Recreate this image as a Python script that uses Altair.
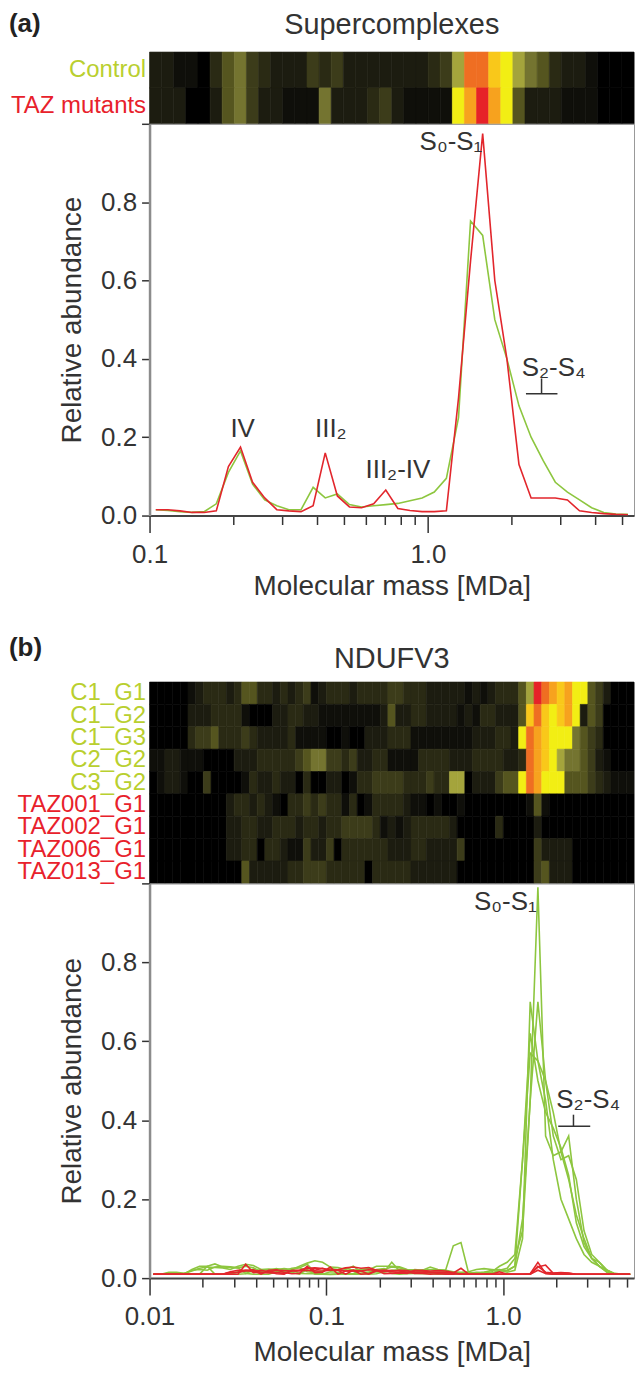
import altair as alt
import pandas as pd

FONT = "Liberation Sans"
GREEN = "#8dc63f"
RED = "#e2262c"
LBL_GREEN = "#b9cf2f"
LBL_RED = "#e8212b"
TXT = "#333333"

# fraction calibration (MDa), one value per gel fraction
MASS = [0.01051, 0.01162, 0.01285, 0.01420, 0.01570, 0.01735, 0.01918, 0.02120, 0.02343, 0.02590,
        0.02863, 0.03164, 0.03498, 0.03866, 0.04273, 0.04723, 0.05221, 0.05771, 0.06378, 0.07050,
        0.07793, 0.08614, 0.09522, 0.1053, 0.1163, 0.1286, 0.1421, 0.1571, 0.1737, 0.1920,
        0.2122, 0.2345, 0.2592, 0.2865, 0.3167, 0.3501, 0.3870, 0.4277, 0.4728, 0.5226,
        0.5776, 0.6385, 0.7057, 0.7800, 0.8622, 0.9533, 1.054, 1.165, 1.288, 1.423,
        1.573, 1.739, 1.922, 2.124, 2.348, 2.595, 2.869, 3.171, 3.505, 3.874,
        4.282, 4.733, 5.232]
MASS_A = MASS[23:]

# ---- panel (a) Supercomplexes ----
CTRL_A = [0.015, 0.013, 0.010, 0.008, 0.010, 0.030, 0.110, 0.165, 0.080, 0.040,
          0.025, 0.015, 0.015, 0.072, 0.045, 0.055, 0.028, 0.022, 0.025, 0.028,
          0.031, 0.038, 0.045, 0.060, 0.095, 0.250, 0.752, 0.715, 0.500, 0.400,
          0.280, 0.200, 0.140, 0.085, 0.060, 0.040, 0.020, 0.008, 0.004, 0.003]
TAZ_A = [0.015, 0.015, 0.012, 0.008, 0.008, 0.012, 0.125, 0.175, 0.085, 0.045,
         0.015, 0.012, 0.010, 0.025, 0.160, 0.050, 0.022, 0.020, 0.030, 0.065,
         0.018, 0.013, 0.010, 0.010, 0.012, 0.300, 0.650, 0.975, 0.600, 0.400,
         0.130, 0.045, 0.045, 0.045, 0.040, 0.012, 0.008, 0.005, 0.003, 0.002]
HEAT_A_CTRL = [2, 2, 1, 1, 0, 3, 5, 6, 4, 3, 2, 2, 2, 4, 3, 4, 2, 2, 2, 2,
               2, 2, 2, 3, 4, 7, 11, 11, 9, 8, 7, 6, 5, 3, 2, 2, 1, 0, 0, 0]
HEAT_A_TAZ = [2, 2, 2, 0, 0, 2, 5, 6, 4, 2, 2, 1, 1, 1, 6, 2, 2, 2, 3, 4,
              2, 1, 1, 1, 1, 8, 10, 12, 10, 8, 5, 2, 2, 2, 1, 1, 1, 0, 0, 0]
ROWS_A = ["Control", "TAZ mutants"]

ANN_A_TEXT = ["IV", "III₂", "III₂-IV", "S₀-S₁", "S₂-S₄"]
ANN_A_MASS = [0.216, 0.448, 0.78, 1.21, 2.83]
ANN_A_VAL = [0.221, 0.221, 0.117, 0.954, 0.376]
BRACKET_A = {"from": 2.25, "to": 2.92, "mid": 2.56, "low": 0.311, "high": 0.35}

# ---- panel (b) NDUFV3 ----
ROWS_B = ["C1_G1", "C1_G2", "C1_G3", "C2_G2", "C3_G2",
          "TAZ001_G1", "TAZ002_G1", "TAZ006_G1", "TAZ013_G1"]

L_C1G1 = [.010, .010, .010, .010, .012, .018, .025, .028, .027, .026, .022, .030, .035, .032,
          .022, .020, .024, .020, .022, .026, .035, .015, .018, .024, .022, .025, .020, .022,
          .024, .020, .022, .028, .026, .020, .018, .016, .014, .012, .013, .012, .011, .010,
          .012, .010, .012, .020, .025, .050, .120, .450, .990, .360, .310, .320, .360, .200,
          .090, .050, .030, .015, .010, .010, .010]
L_C1G2 = [.010, .010, .010, .010, .011, .020, .022, .020, .028, .030, .029, .026, .012, .010,
          .010, .010, .016, .018, .025, .027, .016, .015, .011, .010, .011, .010, .011, .012,
          .010, .011, .016, .040, .018, .017, .022, .020, .016, .015, .016, .015, .013, .014,
          .012, .015, .020, .022, .018, .030, .150, .450, .700, .500, .360, .300, .310, .250,
          .120, .060, .040, .020, .010, .010, .010]
L_C1G3 = [.010, .010, .010, .010, .010, .022, .030, .030, .036, .028, .027, .026, .030, .026,
          .016, .017, .015, .016, .022, .012, .011, .012, .010, .009, .010, .011, .010, .010,
          .015, .016, .015, .020, .021, .020, .012, .011, .011, .010, .010, .011, .010, .010,
          .013, .014, .013, .018, .020, .030, .300, .570, .550, .500, .420, .320, .250, .160,
          .100, .050, .040, .020, .010, .010, .010]
L_C2G2 = [.010, .010, .012, .012, .010, .010, .010, .010, .010, .010, .010, .016, .017, .016,
          .022, .023, .022, .024, .022, .030, .038, .044, .040, .028, .027, .022, .030, .016,
          .015, .022, .024, .012, .010, .011, .012, .020, .022, .021, .020, .016, .015, .016,
          .022, .024, .022, .020, .015, .020, .100, .700, .550, .450, .300, .200, .150, .100,
          .060, .040, .030, .015, .010, .010, .010]
L_C3G2 = [.010, .010, .015, .015, .012, .010, .010, .030, .010, .010, .010, .010, .011, .022,
          .016, .017, .022, .016, .015, .010, .022, .010, .010, .016, .015, .010, .011, .022,
          .021, .030, .030, .030, .029, .022, .021, .020, .028, .022, .020, .082, .090, .012,
          .015, .014, .016, .030, .040, .060, .300, .620, .500, .420, .380, .330, .260, .140,
          .080, .050, .030, .020, .012, .010, .010]
L_T001 = [.010, .010, .010, .010, .010, .010, .010, .010, .010, .010, .016, .020, .020, .016,
          .020, .016, .011, .010, .020, .020, .026, .020, .025, .020, .020, .010, .020, .010,
          .011, .020, .020, .019, .018, .015, .012, .012, .010, .011, .010, .010, .011, .010,
          .010, .010, .010, .010, .010, .010, .010, .011, .040, .012, .010, .010, .010, .010,
          .010, .010, .010, .010, .010, .010, .010]
L_T002 = [.010, .010, .010, .010, .010, .010, .010, .010, .010, .010, .014, .015, .020, .021,
          .014, .015, .020, .019, .018, .019, .020, .018, .018, .020, .021, .026, .028, .025,
          .027, .020, .011, .012, .013, .012, .018, .019, .018, .019, .018, .014, .010, .010,
          .010, .010, .010, .016, .010, .010, .010, .010, .020, .012, .010, .010, .010, .010,
          .010, .010, .010, .010, .010, .010, .010]
L_T006 = [.010, .010, .010, .010, .010, .010, .010, .010, .010, .010, .014, .015, .018, .020,
          .010, .020, .021, .014, .011, .012, .030, .014, .015, .028, .010, .018, .019, .018,
          .021, .020, .017, .016, .014, .014, .020, .019, .014, .015, .014, .013, .025, .010,
          .010, .010, .010, .010, .010, .010, .010, .010, .030, .015, .013, .014, .013, .010,
          .010, .010, .010, .010, .010, .010, .010]
L_T013 = [.010, .010, .010, .010, .010, .010, .010, .010, .010, .010, .010, .010, .035, .014,
          .015, .013, .014, .012, .018, .019, .025, .026, .024, .020, .021, .018, .019, .018,
          .010, .018, .019, .018, .020, .019, .015, .014, .015, .013, .014, .013, .010, .010,
          .010, .010, .010, .010, .010, .010, .010, .010, .028, .033, .012, .013, .012, .010,
          .010, .010, .010, .010, .010, .010, .010]
LINES_B = [L_C1G1, L_C1G2, L_C1G3, L_C2G2, L_C3G2, L_T001, L_T002, L_T006, L_T013]

H_C1G1 = [0, 0, 0, 0, 0, 1, 2, 3, 3, 3, 2, 3, 5, 5, 3, 3, 2, 3, 2, 3, 4, 1, 2, 3, 3, 3, 2, 3, 3, 3, 3,
          4, 4, 3, 3, 3, 2, 2, 2, 2, 2, 1, 2, 1, 2, 3, 3, 3, 5, 7, 12, 11, 10, 9, 10, 8, 8, 5, 4, 2, 0, 0, 0]
H_C1G2 = [0, 0, 0, 0, 0, 2, 2, 2, 3, 3, 3, 3, 1, 0, 0, 0, 2, 2, 3, 3, 2, 2, 1, 1, 1, 1, 1, 1, 1, 1, 2,
          5, 2, 2, 3, 3, 2, 2, 2, 2, 1, 2, 1, 3, 3, 2, 2, 2, 5, 9, 11, 9, 8, 9, 10, 8, 2, 5, 4, 0, 0, 0, 0]
H_C1G3 = [0, 0, 0, 0, 0, 3, 4, 4, 5, 3, 3, 3, 4, 3, 2, 2, 2, 2, 3, 1, 1, 1, 1, 0, 0, 1, 0, 0, 2, 2, 2,
          3, 3, 3, 1, 1, 1, 1, 1, 1, 1, 1, 2, 2, 2, 3, 3, 2, 8, 11, 10, 9, 8, 8, 8, 6, 5, 4, 3, 0, 0, 0, 0]
H_C2G2 = [1, 1, 2, 2, 1, 1, 1, 0, 0, 0, 0, 2, 2, 2, 3, 3, 3, 3, 3, 4, 5, 6, 6, 4, 4, 3, 4, 2, 2, 3, 3,
          1, 1, 1, 1, 3, 3, 3, 3, 2, 2, 2, 3, 3, 3, 3, 2, 2, 3, 11, 10, 9, 8, 7, 6, 6, 5, 4, 2, 1, 0, 0, 0]
H_C3G2 = [0, 1, 2, 2, 1, 0, 0, 4, 0, 0, 0, 0, 1, 3, 2, 2, 3, 2, 2, 0, 3, 0, 0, 2, 2, 0, 1, 3, 3, 4, 4,
          4, 4, 3, 3, 3, 4, 3, 3, 7, 7, 0, 2, 2, 2, 4, 5, 5, 8, 11, 10, 8, 8, 8, 5, 5, 5, 4, 3, 2, 1, 1, 1]
H_T001 = [0, 0, 0, 0, 0, 0, 0, 0, 0, 0, 2, 3, 3, 2, 3, 2, 1, 0, 3, 3, 4, 3, 4, 3, 3, 1, 3, 0, 1, 3, 3,
          3, 3, 2, 1, 1, 0, 1, 0, 0, 1, 0, 0, 0, 0, 0, 0, 0, 0, 1, 5, 1, 0, 0, 0, 0, 0, 0, 0, 0, 0, 0, 0]
H_T002 = [0, 0, 0, 0, 0, 0, 0, 0, 0, 0, 2, 2, 3, 3, 2, 2, 3, 3, 3, 2, 3, 3, 2, 3, 3, 4, 4, 4, 4, 3, 1,
          2, 1, 2, 3, 3, 3, 3, 3, 2, 0, 0, 0, 0, 0, 3, 0, 0, 0, 0, 2, 0, 0, 0, 0, 0, 0, 0, 0, 0, 0, 0, 0]
H_T006 = [0, 0, 0, 0, 0, 0, 0, 0, 0, 0, 2, 2, 3, 3, 0, 3, 3, 2, 1, 1, 4, 2, 2, 4, 0, 3, 3, 3, 3, 3, 3,
          2, 2, 2, 3, 3, 2, 2, 2, 2, 4, 0, 0, 0, 0, 0, 0, 0, 0, 0, 4, 2, 2, 2, 2, 0, 0, 0, 0, 0, 0, 0, 0]
H_T013 = [0, 0, 0, 0, 0, 0, 0, 0, 0, 0, 0, 0, 5, 2, 2, 2, 2, 2, 3, 3, 4, 4, 4, 3, 3, 3, 3, 3, 0, 3, 3,
          3, 3, 3, 2, 2, 2, 2, 2, 2, 0, 0, 0, 0, 0, 0, 0, 0, 0, 0, 4, 5, 2, 2, 2, 0, 0, 0, 0, 0, 0, 0, 0]
HEAT_B = [H_C1G1, H_C1G2, H_C1G3, H_C2G2, H_C3G2, H_T001, H_T002, H_T006, H_T013]

ANN_B_TEXT = ["S₀-S₁", "S₂-S₄"]
ANN_B_MASS = [1.03, 3.03]
ANN_B_VAL = [0.953, 0.45]
BRACKET_B = {"from": 2.05, "to": 3.11, "mid": 2.50, "low": 0.385, "high": 0.414}

# heatmap colour levels: black -> olive -> yellow -> orange -> red
HEAT_LEVELS = list(range(13))
HEAT_COLORS = ["#000000", "#0f0f0a", "#1c1c10", "#2a2a14", "#3c3c1a", "#55551f", "#747430",
               "#a4a43c", "#f2ee14", "#f9c81a", "#f7a21e", "#ef6e22", "#e62228"]

PLOT_W = 486


def heat_frame(rows, levels):
    recs = []
    for name, lv in zip(rows, levels):
        for i, v in enumerate(lv):
            recs.append({"sample": name, "c0": i, "c1": i + 1, "level": v})
    return pd.DataFrame(recs)


def heatmap(rows, levels, height, label_size, title, tag, title_y, tag_y):
    ncol = len(levels[0])
    df = heat_frame(rows, levels)
    rect = alt.Chart(df).mark_rect(strokeWidth=0.6).encode(
        x=alt.X("c0:Q", scale=alt.Scale(domain=[0, ncol], nice=False, zero=False), axis=None),
        x2="c1:Q",
        y=alt.Y("sample:N", sort=rows, scale=alt.Scale(paddingInner=0, paddingOuter=0),
                axis=alt.Axis(title=None, ticks=False, domain=False, labelFontSize=label_size,
                              labelFont=FONT, labelPadding=4, labelLimit=300,
                              labelColor={"condition": {"test": "indexof(datum.value, 'TAZ') == 0",
                                                        "value": LBL_RED},
                                          "value": LBL_GREEN})),
        color=alt.Color("level:O", scale=alt.Scale(domain=HEAT_LEVELS, range=HEAT_COLORS), legend=None),
        stroke=alt.Stroke("level:O", scale=alt.Scale(domain=HEAT_LEVELS, range=HEAT_COLORS), legend=None),
    )
    tag_mark = alt.Chart(pd.DataFrame({"t": [tag]})).mark_text(
        align="left", baseline="middle", fontSize=26, fontWeight="bold", font=FONT, color="#222"
    ).encode(text="t:N", x=alt.value(-141), y=alt.value(tag_y))
    title_mark = alt.Chart(pd.DataFrame({"t": [title]})).mark_text(
        align="center", baseline="middle", fontSize=29, font=FONT, color=TXT
    ).encode(text="t:N", x=alt.value(PLOT_W / 2), y=alt.value(title_y))
    return alt.layer(rect, tag_mark, title_mark).properties(
        width=PLOT_W, height=height,
        view=alt.ViewBackground(stroke="#bbbbbb", strokeWidth=1),
    )


def line_panel(mass, green_series, red_series, ann, bracket, domain, tick_values, label_expr, major_test, title_pad):
    xs = alt.Scale(type="log", domain=domain, nice=False)
    ys = alt.Scale(domain=[0, 1], nice=False, zero=True)
    x_axis = alt.Axis(values=tick_values, labelExpr=label_expr, title="Molecular mass [MDa]",
                      tickSize={"condition": {"test": major_test, "value": 17}, "value": 9},
                      tickColor="#333", tickWidth=1.5, domainColor="#444", domainWidth=2,
                      labelFontSize=26, labelPadding=9, labelFlush=False, labelOverlap=False,
                      labelColor=TXT, titleFontSize=28, titleFontWeight="normal", titleColor=TXT,
                      titlePadding=title_pad, grid=False)
    y_axis = alt.Axis(values=[0, 0.2, 0.4, 0.6, 0.8, 1.0],
                      labelExpr="datum.value >= 1 ? '' : format(datum.value, '.1f')",
                      title="Relative abundance", tickSize=8, tickColor="#333", tickWidth=1.5,
                      domainColor="#8c8c8c", domainWidth=2.5, labelFontSize=26, labelPadding=5,
                      labelFlush=False, labelOverlap=False, labelColor=TXT, titleFontSize=28,
                      titleFontWeight="normal", titleColor=TXT, titlePadding=14, grid=False)

    def frame(series_list, name):
        recs = []
        for si, vals in enumerate(series_list):
            for m, v in zip(mass, vals):
                recs.append({"mass": m, "value": v, "series": f"{name}{si}"})
        return pd.DataFrame(recs)

    g = alt.Chart(frame(green_series, "g")).mark_line(color=GREEN, strokeWidth=1.6, clip=True).encode(
        x=alt.X("mass:Q", scale=xs, axis=x_axis),
        y=alt.Y("value:Q", scale=ys, axis=y_axis),
        detail="series:N",
    )
    r = alt.Chart(frame(red_series, "r")).mark_line(color=RED, strokeWidth=1.6, clip=True).encode(
        x="mass:Q", y="value:Q", detail="series:N")
    txt = alt.Chart(pd.DataFrame({"mass": ann[1], "value": ann[2], "label": ann[0]})).mark_text(
        fontSize=26, font=FONT, color=TXT, align="center", baseline="middle"
    ).encode(x="mass:Q", y="value:Q", text="label:N")
    br_h = alt.Chart(pd.DataFrame({"mass": [bracket["from"]], "mass2": [bracket["to"]],
                                   "value": [bracket["low"]]})).mark_rule(
        color="#333", strokeWidth=1.5).encode(x="mass:Q", x2="mass2:Q", y="value:Q")
    br_v = alt.Chart(pd.DataFrame({"mass": [bracket["mid"]], "value": [bracket["low"]],
                                   "value2": [bracket["high"]]})).mark_rule(
        color="#333", strokeWidth=1.5).encode(x="mass:Q", y="value:Q", y2="value2:Q")
    return alt.layer(g, r, txt, br_h, br_v)


heat_a = heatmap(ROWS_A, [HEAT_A_CTRL, HEAT_A_TAZ], 72, 24, "Supercomplexes", "(a)", -27, -28)
line_a = line_panel(MASS_A, [CTRL_A], [TAZ_A],
                    (ANN_A_TEXT, ANN_A_MASS, ANN_A_VAL), BRACKET_A, [0.1, 5.5],
                    [0.1, 0.2, 0.3, 0.4, 0.5, 0.6, 0.7, 0.8, 0.9, 1, 2, 3, 4, 5],
                    "datum.value == 0.1 ? '0.1' : (datum.value == 1 ? '1.0' : '')",
                    "datum.value == 0.1 || datum.value == 1", 5).properties(
    width=PLOT_W, height=393, view=alt.ViewBackground(stroke="#999999", strokeWidth=1))

spacer = alt.Chart(pd.DataFrame({"s": [0]})).mark_point(opacity=0).encode(
    x=alt.value(0), y=alt.value(0)
).properties(width=PLOT_W, height=167, view=alt.ViewBackground(strokeOpacity=0))

heat_b = heatmap(ROWS_B, HEAT_B, 202, 24, "NDUFV3", "(b)", -23, -34)
line_b = line_panel(MASS, LINES_B[:5], LINES_B[5:],
                    (ANN_B_TEXT, ANN_B_MASS, ANN_B_VAL), BRACKET_B, [0.01, 5.5],
                    [0.01, 0.02, 0.03, 0.04, 0.05, 0.06, 0.07, 0.08, 0.09,
                     0.1, 0.2, 0.3, 0.4, 0.5, 0.6, 0.7, 0.8, 0.9, 1, 2, 3, 4, 5],
                    "datum.value == 0.01 ? '0.01' : (datum.value == 0.1 ? '0.1' : (datum.value == 1 ? '1.0' : ''))",
                    "datum.value == 0.01 || datum.value == 0.1 || datum.value == 1", 9).properties(
    width=PLOT_W, height=396, view=alt.ViewBackground(stroke="#999999", strokeWidth=1))

chart = alt.vconcat(heat_a, line_a, spacer, heat_b, line_b, spacing=0, bounds="flush").resolve_scale(
    x="independent", y="independent"
).properties(padding=0).configure(font=FONT).configure_axis(grid=False)

chart.save("out.html", embed_options={"renderer": "svg", "actions": False})
